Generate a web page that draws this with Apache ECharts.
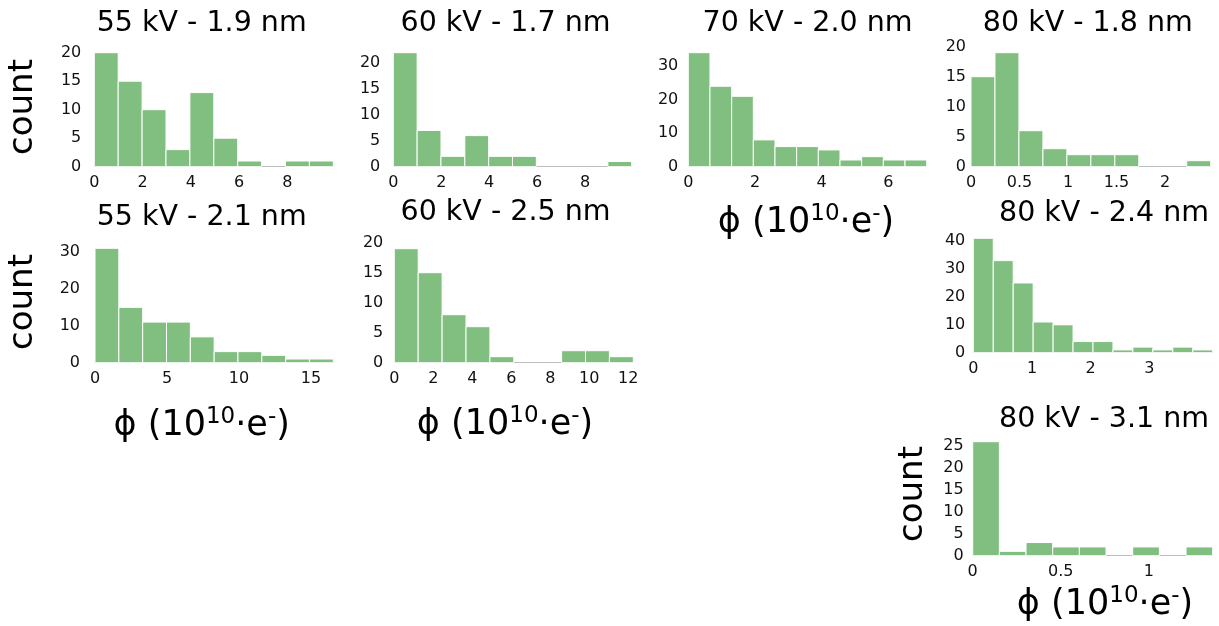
<!DOCTYPE html>
<html>
<head>
<meta charset="utf-8">
<script src="https://cdn.jsdelivr.net/npm/echarts@6/dist/echarts.min.js"></script>
<style>
  html, body { margin: 0; padding: 0; background: #fff; }
  #chart { width: 1219px; height: 626px; }
</style>
</head>
<body>
<div id="chart"></div>
<script>
// Panel titles (accelerating voltage - particle size)
const titles = ['55 kV - 1.9 nm', '60 kV - 1.7 nm', '70 kV - 2.0 nm', '80 kV - 1.8 nm',
                '55 kV - 2.1 nm', '60 kV - 2.5 nm', '80 kV - 2.4 nm', '80 kV - 3.1 nm'];

// Histogram counts per bin, bins start at 0
const counts55a = [20, 15, 10, 3, 13, 5, 1, 0, 1, 1];
const counts60a = [22, 7, 2, 6, 2, 2, 0, 0, 0, 1];
const counts70a = [34, 24, 21, 8, 6, 6, 5, 2, 3, 2, 2];
const counts80a = [15, 19, 6, 3, 2, 2, 2, 0, 0, 1];
const counts55b = [31, 15, 11, 11, 7, 3, 3, 2, 1, 1];
const counts60b = [19, 15, 8, 6, 1, 0, 0, 2, 2, 1];
const counts80b = [41, 33, 25, 11, 10, 4, 4, 1, 2, 1, 2, 1];
const counts80c = [26, 1, 3, 2, 2, 0, 2, 0, 2];

// Bin widths in units of 10^10 e-
const binWidths = [0.99, 0.995, 0.65, 0.247, 1.655, 1.226, 0.34, 0.1515];

// Upper limit of each count axis
const yMaxes = [20, 22, 34, 20, 31, 20, 41, 26];

// Tick labels
const xTicks = [
  [0, 2, 4, 6, 8],
  [0, 2, 4, 6, 8],
  [0, 2, 4, 6],
  [0, 0.5, 1, 1.5, 2],
  [0, 5, 10, 15],
  [0, 2, 4, 6, 8, 10, 12],
  [0, 1, 2, 3],
  [0, 0.5, 1]
];
const yTicks = [
  [0, 5, 10, 15, 20],
  [0, 5, 10, 15, 20],
  [0, 10, 20, 30],
  [0, 5, 10, 15, 20],
  [0, 10, 20, 30],
  [0, 5, 10, 15, 20],
  [0, 10, 20, 30, 40],
  [0, 5, 10, 15, 20, 25]
];

const allCounts = [counts55a, counts60a, counts70a, counts80a, counts55b, counts60b, counts80b, counts80c];

// Plot-area placement of each panel: [left, top, width, height]
const layout = [
  [94.3, 52.7, 239, 114],
  [393.3, 52.7, 238.4, 114],
  [688.3, 52.7, 238.4, 114],
  [971, 46.7, 239.7, 120],
  [95, 248.3, 238.3, 114.4],
  [394.3, 242.7, 239, 120],
  [973.3, 238.3, 239.4, 114.4],
  [972.7, 441.7, 240, 114]
];
const yLabelMargin = [13, 13, 10, 5, 15, 11, 8, 9];

// Title anchor points (centre)
const titlePos = [[201.7, 24], [505.5, 24], [807.5, 24], [1087.8, 24],
                  [201.7, 218], [505.5, 213], [1104, 213.5], [1104, 419.5]];
// Axis-title anchors
const xTitlePos = [[806, 223], [201.7, 426], [505, 425], [1105, 605]];
const yTitlePos = [[23, 107], [23, 302], [913, 494]];

const GREEN = '#80bf80';
const grids = [], xAxes = [], yAxes = [], series = [];

allCounts.forEach((cnt, i) => {
  const [l, t, w, h] = layout[i];
  const bw = binWidths[i];
  grids.push({ left: l, top: t, width: w, height: h, containLabel: false });
  xAxes.push({
    type: 'value', gridIndex: i, min: 0, max: bw * cnt.length,
    axisLine: { show: true, onZero: false, lineStyle: { color: '#bdbdbd', width: 1 } },
    axisTick: { show: false },
    splitLine: { show: false },
    axisLabel: {
      customValues: xTicks[i], color: '#111', fontSize: 16,
      fontFamily: 'DejaVu Sans', margin: 8, hideOverlap: false
    }
  });
  yAxes.push({
    type: 'value', gridIndex: i, min: 0, max: yMaxes[i],
    axisLine: { show: false },
    axisTick: { show: false },
    splitLine: { show: false },
    axisLabel: {
      customValues: yTicks[i], color: '#111', fontSize: 16,
      fontFamily: 'DejaVu Sans', margin: yLabelMargin[i]
    }
  });
  series.push({
    type: 'custom', xAxisIndex: i, yAxisIndex: i, silent: true,
    data: cnt.map((c, k) => [k * bw, (k + 1) * bw, c]),
    encode: { x: [0, 1], y: 2 },
    renderItem: (params, api) => {
      const c = api.value(2);
      if (!c) return null;
      const p0 = api.coord([api.value(0), c]);
      const p1 = api.coord([api.value(1), 0]);
      return {
        type: 'rect',
        shape: { x: p0[0], y: p0[1], width: p1[0] - p0[0], height: p1[1] - p0[1] },
        style: { fill: GREEN, stroke: '#ffffff', lineWidth: 1 }
      };
    }
  });
});

const graphic = [];
titles.forEach((txt, i) => {
  graphic.push({
    type: 'text', x: titlePos[i][0], y: titlePos[i][1],
    style: { text: txt, font: '28.5px "DejaVu Sans"', fill: '#000', align: 'center', verticalAlign: 'middle' }
  });
});
xTitlePos.forEach(p => {
  graphic.push({
    type: 'text', x: p[0], y: p[1],
    style: {
      text: '{m|ϕ (10}{s|10}{m|·e}{s|-}{m|)}',
      align: 'center', verticalAlign: 'middle',
      rich: {
        m: { fontSize: 35, fontFamily: 'DejaVu Sans', fill: '#000', lineHeight: 41 },
        s: { fontSize: 23, fontFamily: 'DejaVu Sans', fill: '#000', verticalAlign: 'top', lineHeight: 26 }
      }
    }
  });
});
yTitlePos.forEach(p => {
  graphic.push({
    type: 'text', x: p[0], y: p[1], rotation: Math.PI / 2,
    style: { text: 'count', font: '34px "DejaVu Sans"', fill: '#000', align: 'center', verticalAlign: 'middle' }
  });
});

const chart = echarts.init(document.getElementById('chart'), null, { renderer: 'canvas' });
chart.setOption({
  backgroundColor: '#fff',
  animation: false,
  grid: grids,
  xAxis: xAxes,
  yAxis: yAxes,
  series: series,
  graphic: graphic
});
</script>
</body>
</html>
